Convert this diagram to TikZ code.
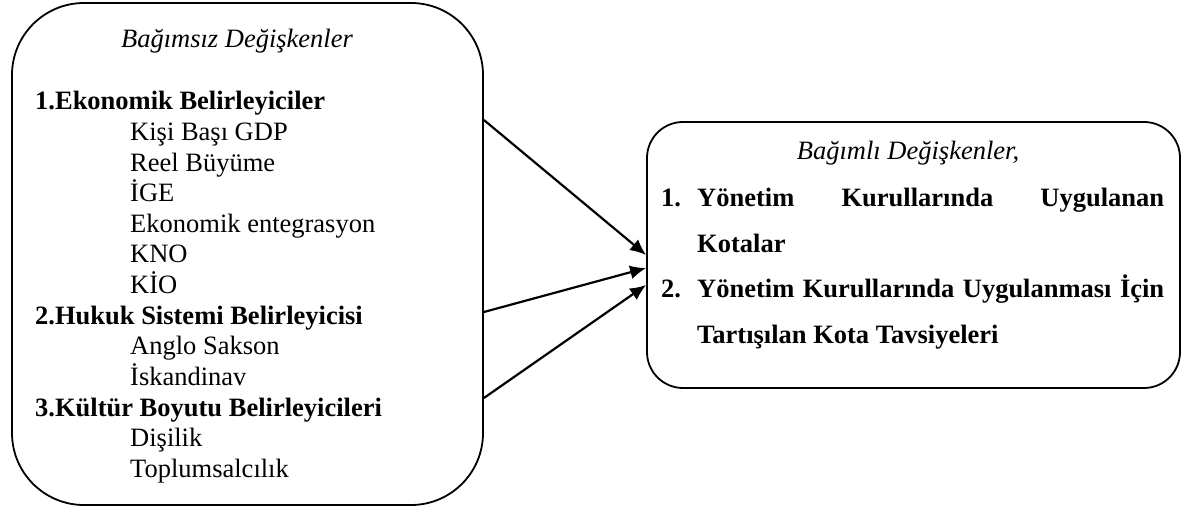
\documentclass[tikz,border=0pt]{standalone}
\usepackage{fontspec}
\setmainfont{Liberation Serif}
\usetikzlibrary{arrows.meta,positioning}

\begin{document}
\begin{tikzpicture}[x=1pt,y=-1pt,
  kutu/.style={draw,line width=1.8pt,rounded corners=#1},
  ok/.style={line width=2.2pt,-{Latex[length=16pt,width=14pt]}},
  yazi/.style={inner sep=0pt,anchor=base west,font=\fontsize{26.5}{30}\selectfont}]
\useasboundingbox (0,0) rectangle (1182,510);

\node[kutu=72pt,minimum width=471pt,minimum height=502pt] (bag) at (247.5,254) {};
\node[kutu=36pt,minimum width=533pt,minimum height=266pt] (bagli) at (913.5,255) {};

% bagimsiz degiskenler
\node[yazi,anchor=base] (bbaslik) at (237,48) {\itshape Bağımsız Değişkenler};
\def\bliste{0/35/{\bfseries 1.Ekonomik Belirleyiciler},1/130/{Kişi Başı GDP},
  2/130/{Reel Büyüme},3/130/{İGE},4/130/{Ekonomik entegrasyon},5/130/{KNO},
  6/130/{KİO},7/35/{\bfseries 2.Hukuk Sistemi Belirleyicisi},8/130/{Anglo Sakson},
  9/130/{İskandinav},10/35/{\bfseries 3.Kültür Boyutu Belirleyicileri},
  11/130/{Dişilik},12/130/{Toplumsalcılık}}
\foreach \i/\x/\element in \bliste
  \node[yazi] (b\i) at (\x,110+30.6*\i) {\element};

% bagimli degiskenler
\node[yazi,anchor=base] (kbaslik) at (908,160) {\itshape Bağımlı Değişkenler,};
\node[yazi] (n1) at (661,207) {\bfseries 1.};
\node[yazi] (k1) at (697,207)
  {\parbox[t]{467pt}{\bfseries\baselineskip=46pt Yönetim Kurullarında Uygulanan\linebreak Kotalar}};
\node[yazi] (n2) at (661,298) {\bfseries 2.};
\node[yazi] (k2) at (697,298)
  {\parbox[t]{467pt}{\bfseries\baselineskip=46pt Yönetim Kurullarında Uygulanması İçin\linebreak Tartışılan Kota Tavsiyeleri}};

\draw[ok] ([yshift=134pt]bag.east) -- (bagli.west);
\draw[ok] ([yshift=-58pt]bag.east) -- ([yshift=-13pt]bagli.west);
\draw[ok] ([yshift=-144pt]bag.east) -- ([yshift=-30pt]bagli.west);

\end{tikzpicture}
\end{document}
